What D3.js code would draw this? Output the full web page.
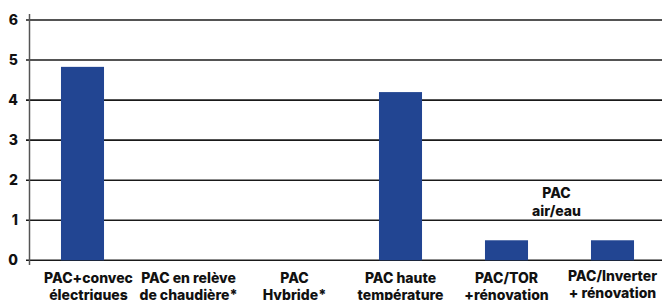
<!DOCTYPE html>
<html>
<head>
<meta charset="utf-8">
<script src="https://cdn.jsdelivr.net/npm/d3@7"></script>
<style>
  body { margin: 0; background: #fff; }
  svg text { font-family: Inter, "Noto Sans", sans-serif; font-weight: 800; fill: #111; }
</style>
</head>
<body>
<svg id="chart"></svg>
<script>
var categories = [
    ['PAC+convec', 'électriques'],
    ['PAC en relève', 'de chaudière*'],
    ['PAC', 'Hybride*'],
    ['PAC haute', 'température'],
    ['PAC/TOR', '+rénovation'],
    ['PAC/Inverter', '+ rénovation']
];
var values = [4.83, null, null, 4.2, 0.5, 0.5];
var yTicks = [0, 1, 2, 3, 4, 5, 6];
var note = ['PAC', 'air/eau'];

var width = 662, height = 300;
var svg = d3.select('#chart').attr('width', width).attr('height', height);

var x = d3.scaleBand().domain(d3.range(categories.length))
    .range([29.5, 665.5]).paddingInner(0.594).paddingOuter(0.297);
var y = d3.scaleLinear().domain([0, 6]).range([260.3, 20]);

// gridlines
svg.append('g').selectAll('line').data(yTicks).enter().append('line')
    .attr('x1', 26).attr('x2', width)
    .attr('y1', function(d) { return y(d); }).attr('y2', function(d) { return y(d); })
    .attr('stroke', '#1a1a1a').attr('stroke-width', 1.6);

// y axis line
svg.append('line').attr('x1', 29.5).attr('x2', 29.5).attr('y1', 14).attr('y2', 265)
    .attr('stroke', '#555').attr('stroke-width', 1.5);

// tick labels
svg.append('g').selectAll('text').data(yTicks).enter().append('text')
    .attr('x', 18).attr('y', function(d) { return y(d); }).attr('dy', '0.36em')
    .attr('text-anchor', 'end').style('font-size', '14px')
    .text(function(d) { return d; });

// bars (empty categories have no bar)
var barData = values.map(function(v, i) { return {v: v, i: i}; })
    .filter(function(d) { return d.v != null; });
svg.append('g').selectAll('rect').data(barData).enter().append('rect')
    .attr('x', function(d) { return x(d.i); })
    .attr('y', function(d) { return y(d.v); })
    .attr('width', x.bandwidth())
    .attr('height', function(d) { return y(0) - y(d.v); })
    .attr('fill', '#224592');

// category labels
var lab = svg.append('g').selectAll('text').data(categories).enter().append('text')
    .attr('text-anchor', 'middle').style('font-size', '14px')
    .attr('transform', function(d, i) {
        var cx = x(i) + x.bandwidth() / 2 + (i === 0 ? 6 : 0);
        return 'translate(' + cx + ',' + (i === 5 ? 281 : 283) + ')';
    });
lab.selectAll('tspan').data(function(d) { return d; }).enter().append('tspan')
    .attr('x', 0).attr('y', function(d, j) { return j * 17; })
    .text(function(d) { return d; });

// annotation
var nx = (x(4) + x(5) + x.bandwidth()) / 2 - 3;
svg.append('text').attr('text-anchor', 'middle').style('font-size', '14px')
    .attr('transform', 'translate(' + nx + ',198)')
    .selectAll('tspan').data(note).enter().append('tspan')
    .attr('x', 0).attr('y', function(d, j) { return j * 17.5; })
    .text(function(d) { return d; });
</script>
</body>
</html>
